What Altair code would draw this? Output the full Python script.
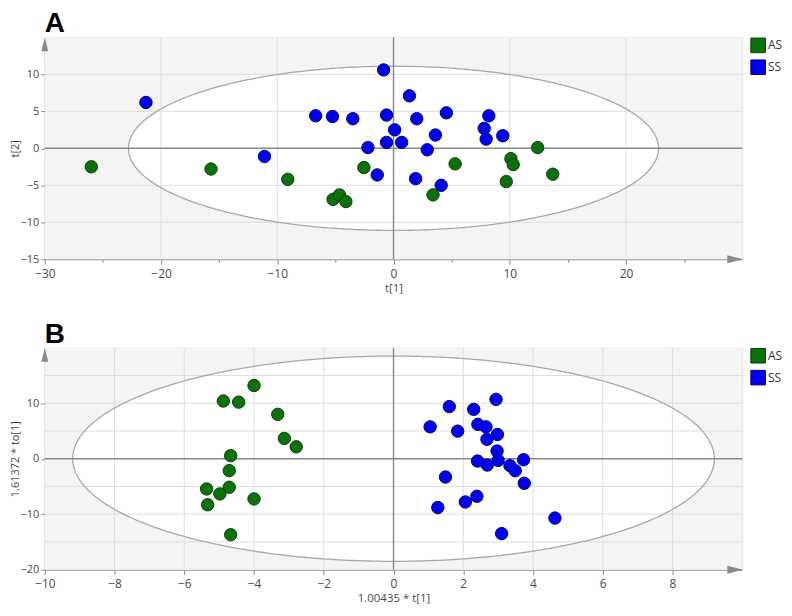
import altair as alt
import pandas as pd

# ---------------- data ----------------
# Panel A: PCA scores t[1], t[2]
a_as_t1 = [-26.0, -15.7, -9.1, -2.55, -5.2, -4.65, -4.1, 5.3, 3.4, 10.1, 10.3, 12.4, 13.7, 9.7]
a_as_t2 = [-2.5, -2.8, -4.2, -2.6, -6.9, -6.3, -7.2, -2.1, -6.3, -1.4, -2.2, 0.1, -3.5, -4.5]
a_ss_t1 = [-21.3, -0.85, -6.7, -5.25, -3.5, -0.6, 0.1, -0.6, -2.2, -11.1, -1.4, 1.37,
           2.0, 4.55, 0.7, 3.6, 2.9, 8.2, 7.8, 7.97, 9.4, 1.9, 4.1]
a_ss_t2 = [6.2, 10.6, 4.4, 4.3, 4.0, 4.5, 2.5, 0.8, 0.1, -1.1, -3.6, 7.1,
           4.0, 4.8, 0.8, 1.8, -0.2, 4.4, 2.7, 1.25, 1.7, -4.1, -5.0]

# Panel B: OPLS-DA scores 1.00435*t[1], 1.61372*to[1]
b_as_t = [-4.0, -4.88, -4.44, -3.32, -3.13, -2.79, -4.67, -4.71, -4.71, -5.36, -4.98, -5.33, -4.0, -4.67]
b_as_to = [13.2, 10.4, 10.2, 8.0, 3.65, 2.15, 0.55, -2.15, -5.15, -5.45, -6.35, -8.3, -7.25, -13.7]
b_ss_t = [2.94, 1.6, 2.3, 1.05, 1.84, 2.42, 2.65, 2.98, 2.68, 2.97, 2.41, 3.0, 2.69, 3.34,
          3.49, 3.73, 3.75, 1.49, 2.39, 2.06, 1.27, 4.63, 3.1]
b_ss_to = [10.7, 9.4, 8.9, 5.75, 4.97, 6.2, 5.75, 4.37, 3.5, 1.38, -0.42, -0.3, -1.14, -1.26,
           -2.16, -0.18, -4.43, -3.3, -6.77, -7.8, -8.8, -10.7, -13.5]

groups = ["AS", "SS"]
fill_colors = ["#0b720b", "#0000ee"]
stroke_colors = ["#064006", "#00007a"]

# axis settings
a_x_domain = [-30, 30]
a_y_domain = [-15, 15]
a_x_ticks = [-30, -25, -20, -15, -10, -5, 0, 5, 10, 15, 20, 25]
a_y_ticks = [-15, -12.5, -10, -7.5, -5, -2.5, 0, 2.5, 5, 7.5, 10, 12.5]
a_x_grid = [-20, -10, 10, 20]
a_y_grid = [-10, -5, 5, 10]
a_ellipse = (22.8, 11.1)

b_x_domain = [-10, 10]
b_y_domain = [-20, 20]
b_x_ticks = [-10, -9, -8, -7, -6, -5, -4, -3, -2, -1, 0, 1, 2, 3, 4, 5, 6, 7, 8, 9]
b_y_ticks = [-20, -17.5, -15, -12.5, -10, -7.5, -5, -2.5, 0, 2.5, 5, 7.5, 10, 12.5, 15, 17.5]
b_x_grid = [-8, -6, -4, -2, 2, 4, 6, 8]
b_y_grid = [-15, -10, -5, 5, 10, 15]
b_ellipse = (9.2, 18.5)

W, H = 701, 223
FONT = "Open Sans"
AXIS_GRAY = "#8a8a8a"
TEXT_GRAY = "#4a4a4a"


def panel(letter, xs_as, ys_as, xs_ss, ys_ss, xdom, ydom, xticks, yticks,
          xgrid, ygrid, ell, xtitle, ytitle, xmajor, ymajor):
    pts = pd.DataFrame({
        "x": xs_as + xs_ss,
        "y": ys_as + ys_ss,
        "g": ["AS"] * len(xs_as) + ["SS"] * len(xs_ss),
    })
    xsc = alt.Scale(domain=xdom, nice=False, zero=False)
    ysc = alt.Scale(domain=ydom, nice=False, zero=False)

    xaxis = alt.Axis(
        values=xticks, grid=False, title=xtitle,
        labelExpr=f"abs(datum.value % {xmajor}) < 1e-9 ? datum.label : ''",
        tickSize={"condition": {"test": f"abs(datum.value % {xmajor}) < 1e-9", "value": 5}, "value": 3},
        domainColor=AXIS_GRAY, tickColor=AXIS_GRAY, labelColor=TEXT_GRAY,
        titleColor=TEXT_GRAY, labelFontSize=12, titleFontSize=11.5,
        labelFont=FONT, titleFont=FONT, titleFontWeight="normal",
        labelPadding=4, titlePadding=3, labelFlush=False,
    )
    yaxis = alt.Axis(
        values=yticks, grid=False, title=ytitle,
        labelExpr=f"abs(datum.value % {ymajor}) < 1e-9 ? datum.label : ''",
        tickSize={"condition": {"test": f"abs(datum.value % {ymajor}) < 1e-9", "value": 4}, "value": 3},
        domainColor=AXIS_GRAY, tickColor=AXIS_GRAY, labelColor=TEXT_GRAY,
        titleColor=TEXT_GRAY, labelFontSize=11, titleFontSize=11,
        labelFont=FONT, titleFont=FONT, titleFontWeight="normal",
        labelPadding=2, titlePadding=0, labelFlush=False,
    )

    bg = alt.Chart(pd.DataFrame({"x0": [xdom[0]], "x1": [xdom[1]], "y0": [ydom[0]], "y1": [ydom[1]]})).mark_rect(
        color="#f4f4f4", opacity=1
    ).encode(
        x=alt.X("x0:Q", scale=xsc, axis=xaxis), x2="x1:Q",
        y=alt.Y("y0:Q", scale=ysc, axis=yaxis), y2="y1:Q",
    )

    a, b = ell
    seq = alt.sequence(0, 1.0001, 0.0025, as_="t")
    fill = alt.Chart(seq).transform_calculate(
        ex=f"{a} * cos(PI * datum.t)",
        ey=f"{b} * sin(PI * datum.t)",
        ey2=f"-{b} * sin(PI * datum.t)",
    ).mark_area(color="white", opacity=1).encode(
        x="ex:Q", y="ey:Q", y2="ey2:Q",
    )
    outline = alt.Chart(seq).transform_calculate(
        ex=f"{a} * cos(2 * PI * datum.t)",
        ey=f"{b} * sin(2 * PI * datum.t)",
    ).mark_line(color="#a8a8a8", strokeWidth=1.3).encode(
        x="ex:Q", y="ey:Q", order="t:Q",
    )
    gx = alt.Chart(pd.DataFrame({"v": xgrid})).mark_rule(color="#dedede", strokeWidth=1).encode(x="v:Q")
    gy = alt.Chart(pd.DataFrame({"v": ygrid})).mark_rule(color="#dedede", strokeWidth=1).encode(y="v:Q")
    zx = alt.Chart(pd.DataFrame({"v": [0]})).mark_rule(color="#888888", strokeWidth=1.4).encode(x="v:Q")
    zy = alt.Chart(pd.DataFrame({"v": [0]})).mark_rule(color="#888888", strokeWidth=1.4).encode(y="v:Q")

    points = alt.Chart(pts).mark_point(filled=True, opacity=1, size=155, strokeWidth=1).encode(
        x="x:Q", y="y:Q",
        fill=alt.Fill("g:N", scale=alt.Scale(domain=groups, range=fill_colors),
                      legend=alt.Legend(title=None, orient="right", symbolType="square",
                                        symbolSize=215, symbolStrokeColor="#d0d0d0",
                                        symbolStrokeWidth=1, labelFontSize=12,
                                        labelFont=FONT, labelColor="#333333",
                                        offset=8, rowPadding=2, labelOffset=2,
                                        padding=0)),
        stroke=alt.Stroke("g:N", scale=alt.Scale(domain=groups, range=stroke_colors), legend=None),
    )

    arrow_up = alt.Chart(pd.DataFrame({"x": [xdom[0]], "y": [ydom[1]]})).mark_point(
        shape="M -0.5 1 L 0 -1 L 0.5 1 Z", size=196, filled=True, color=AXIS_GRAY, opacity=1,
        yOffset=7,
    ).encode(x="x:Q", y="y:Q")
    arrow_right = alt.Chart(pd.DataFrame({"x": [xdom[1]], "y": [ydom[0]]})).mark_point(
        shape="M -1 -0.5 L 1 0 L -1 0.5 Z", size=256, filled=True, color=AXIS_GRAY, opacity=1,
        xOffset=-7,
    ).encode(x="x:Q", y="y:Q")

    label = alt.Chart(pd.DataFrame({"t": [letter]})).mark_text(
        font="Liberation Sans", fontSize=28, fontWeight="bold", color="black",
        align="left", baseline="alphabetic",
    ).encode(text="t:N", x=alt.value(0), y=alt.value(-5))

    return alt.layer(bg, fill, gx, gy, outline, zx, zy, points, arrow_up, arrow_right, label).properties(
        width=W, height=H,
    )


pa = panel("A", a_as_t1, a_as_t2, a_ss_t1, a_ss_t2, a_x_domain, a_y_domain,
           a_x_ticks, a_y_ticks, a_x_grid, a_y_grid, a_ellipse, "t[1]", "t[2]", 10, 5)
pb = panel("B", b_as_t, b_as_to, b_ss_t, b_ss_to, b_x_domain, b_y_domain,
           b_x_ticks, b_y_ticks, b_x_grid, b_y_grid, b_ellipse,
           "1.00435 * t[1]", "1.61372 * to[1]", 2, 5)

chart = alt.vconcat(pa, pb, spacing=26).resolve_scale(fill="independent", stroke="independent").configure_view(
    stroke=None
).configure(padding=0, background="white")

chart.save("out.html", embed_options={"renderer": "svg", "actions": False})
